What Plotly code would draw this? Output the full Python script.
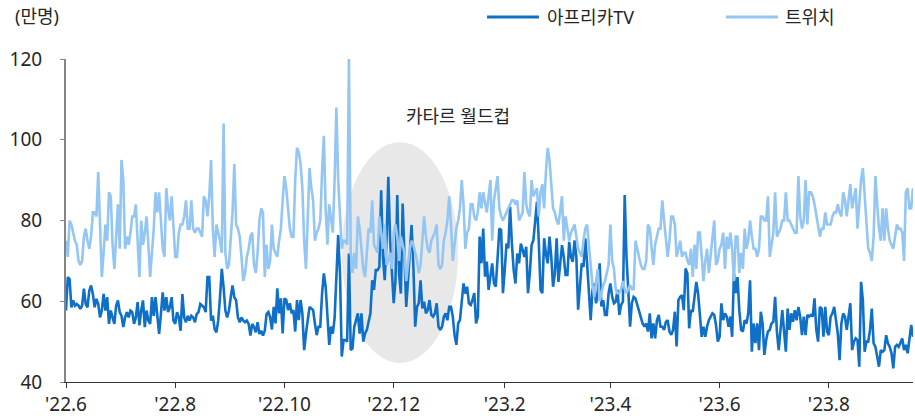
import pandas as pd
import plotly.graph_objects as go

start_date = "2022-06-01"

afreeca = [
    57.7, 66, 65.5, 58.5, 60.2, 58.9, 59.3, 58.9, 58.1, 58.9, 63.1, 59.3, 58.5, 62.6, 63.9, 61.8, 58.5,
    60.6, 59.3, 56, 57.7, 61.8, 57.7, 61, 54.4, 57.7, 56, 54.4, 58.9, 60.2, 57.3, 56.4, 53.6,
    56, 57.3, 56, 57.7, 57.3, 54.4, 56, 59.8, 54, 57.7, 60.2, 53.6, 57.7, 55.2, 54.4, 61,
    56.4, 61, 55.6, 51.9, 56.8, 62.2, 57.7, 61, 57.3, 58.5, 61, 55.2, 54.4, 57.3, 56, 52.7,
    61.8, 56, 54.8, 56.4, 55.2, 56.4, 56, 54.8, 56.8, 57.3, 59.3, 58.9, 58.5, 57.3, 66, 66,
    55.2, 56.4, 53.1, 52.3, 55.2, 61, 68, 63.5, 57.7, 56, 57.7, 61, 63.9, 61, 60.2,
    56, 54.8, 56, 55.2, 54.8, 55.2, 54.4, 51.5, 54.4, 53.6, 52.3, 54.8, 51.9, 52.7, 51.5, 52.7, 56.8, 57.3,
    56, 53, 58.6, 54.5, 63.2, 57, 60.7, 52, 60.7, 60.3,
    57.8, 59.5, 57, 57.8, 52.5, 60.3, 55.3, 60.3, 57, 47.9,
    52, 54.9, 58.6, 58.2, 57.8, 54.5, 51.6, 53.7, 53.7, 61.9,
    66.9, 63.6, 56.2, 49.2, 53.7, 52, 55.8, 66.9, 76.4, 66.9,
    46.3, 50.4, 50.4, 50, 71.8, 47.9, 48.3, 53.7, 55.3, 57,
    52, 57, 50, 52, 52.9, 55, 57, 65.2, 62.8, 67.7,
    67.7, 68.5, 87.5, 71, 65.2, 75.1, 90.8, 75.1, 66.9, 59.5,
    65.2, 86.3, 66.9, 61.9, 84.2, 71.8, 58.6, 65.2, 71.8, 78.9,
    68.5, 53.7, 58.6, 59.5, 65.2, 58.2, 59.9, 57, 57.8, 60.3,
    56.6, 56.2, 57, 59.5, 53.7, 52.9, 53.7, 56.2, 57, 55.3,
    58.6, 58.6, 56.2, 51.6, 49.2, 54.5, 55.3, 60.3, 64.4, 61.9, 63.6, 59.5,
    59.1, 60.3, 62, 54.5, 56.2, 76, 69.4, 78, 66.1, 69.8,
    62.8, 66.1, 69.4, 64.4, 63.6, 70.6, 78, 77.6, 62, 67.7,
    74.3, 73.1, 83.4, 74.3, 67.7, 64.4, 71.8, 69.4, 74.3, 72.7,
    71, 73.5, 62, 66.9, 73.9, 75.1, 80.1, 84.6, 75.1, 62.8,
    62, 75.6, 71.8, 69.4, 76, 71, 63.6, 66.9, 75.6, 64.8,
    69.4, 73.9, 71, 66.5, 66.5, 74.7, 71, 69.8, 75.1, 71,
    57.9, 64.4, 69.4, 68.5, 75.6, 69.4, 62.8, 55.3, 62.8, 64.4,
    59.5, 62, 69.4, 58.7, 60.3, 56.6, 56.6, 62, 64.4, 61.1,
    59.5, 59.9, 62.8, 56.6, 59.1, 59.9, 86.3, 71, 62.8, 53.7,
    59.5, 61.1, 60.7, 59.1, 57.4, 56.2, 54.5, 53.7, 54.5, 52.5,
    57, 50.8, 54.5, 50.8, 55.3, 56.6, 53.7, 53.7, 52.9, 54.9,
    55.3, 52.5, 51.7, 52.9, 57.4, 48.8, 60.3, 61.1, 61.5, 57.8,
    68.1, 66.9, 53.3,
    57.8, 57.4, 61.1, 64.8, 61.9, 57, 51.2, 53.7, 51.2, 53.7,
    55.3, 56.2, 57, 56.6, 54.1, 50, 51.2, 59.5, 55.3, 57,
    56.2, 53.7, 56.2, 51.2, 67, 62, 66, 57.8, 52.9, 52.5,
    55.3, 54.5, 57, 65.2, 47.5, 54.5, 49.6, 54.5, 47.9, 57.4,
    54.5, 46.7, 50.4, 52.5, 52.9, 54.5, 54.9, 61.1, 52.5, 47.9,
    52.5, 57.8, 52.5, 47.5, 58.2, 52.9, 57, 54.9, 57.8, 55.3,
    58.6, 56.2, 51.6, 56.2, 51.6, 56.6, 56.2, 56.6, 56.2, 60.7,
    52.9, 50, 58.6, 58.2, 51.2, 58.6, 52.5, 51.6, 56.2, 57,
    58.6, 55.8, 52, 45.4, 54.5, 57, 56.2, 52.9, 55.8, 59.5,
    47.9, 50, 50.8, 50.4, 43.8, 64.8, 60.3, 47.5, 50, 50,
    52.9, 58.2, 49.6, 48.7, 46.3, 43.8, 47.9, 47.5, 47.9, 51.6,
    49.6, 48.7, 47.1, 43.4, 48.7, 49.2, 48.7, 50, 50.8, 47.9,
    49.2, 47.1, 50.4, 54.1, 51.2,
]

twitch = [
    75, 71, 80, 79, 77, 75, 74, 70, 69, 70,
    76, 78, 75, 73, 76, 82, 82, 81, 92, 80,
    66, 72, 79, 75, 87, 86, 74, 68, 78, 84,
    73, 95, 90, 73, 76, 74, 77, 81, 81, 84,
    75, 66, 80, 74, 77, 81, 74, 66, 72, 78,
    87, 82, 87, 80, 73, 71, 88, 83, 80, 86,
    78, 71, 71, 77, 79, 79, 81, 85, 78, 78,
    85, 78, 77, 78, 78, 77, 76, 86, 85, 81,
    86, 95, 78, 71, 79, 77, 75, 72, 104, 72,
    68, 69, 76, 82, 94, 79, 78, 76, 71, 65,
    67, 71, 73, 76, 77, 69, 67, 72, 80, 83,
    82, 66, 74, 68,
    70, 79, 73, 72, 71, 75, 78, 85, 91, 88,
    82, 78, 76, 76, 90, 98, 97, 94, 88, 75,
    68, 83, 93, 88, 85, 75, 77, 78, 80, 92,
    101, 83, 74, 84, 80, 77, 90, 108, 90, 80,
    73, 75, 75, 74, 120, 72, 67, 72, 68, 81,
    78, 73, 68, 66, 72, 78, 77, 85, 74, 73,
    72, 81, 76, 73, 79, 69, 70, 72, 68, 77,
    79, 76, 70, 76, 74, 72, 65, 70, 73, 75,
    74, 72, 70, 67, 69, 75, 81, 76, 73, 72,
    75, 76, 77, 79, 69, 68, 69, 75, 77, 80,
    86, 79, 70, 74, 78, 80, 83, 90, 84, 73, 77, 78,
    84, 84, 81, 80, 82, 87, 83, 87, 84, 82,
    86, 90, 75, 85, 88, 91, 83, 81, 80, 81,
    82, 83, 84, 85, 85, 84, 85, 80, 81, 82,
    92, 84, 82, 81, 90, 86, 87, 88, 81, 87,
    89, 83, 92, 98, 95, 89, 83, 82, 80, 79,
    83, 86, 75, 81, 78, 75, 77, 78, 79, 76,
    73, 72, 71, 75, 78, 79, 73, 69, 64, 61,
    65, 68, 60, 62, 64, 65, 67, 69, 79, 70,
    68, 63, 62, 62, 63, 65, 63, 62, 63, 64,
    63, 63, 75, 73, 71, 69, 68, 68, 70, 79,
    78, 74, 69, 74, 76, 78, 78, 85, 80, 76,
    71, 75, 81, 81, 79, 71, 73, 75, 71, 72,
    72, 70, 69,
    73, 66, 74, 68, 77, 77, 72, 65, 70, 73,
    67, 72, 77, 80, 69, 70, 73, 74, 77, 68,
    76, 73, 77, 73, 65, 76, 76, 67, 72, 68,
    78, 73, 75, 80, 76, 73, 73, 71, 73, 81,
    81, 80, 80, 86, 71, 74, 77, 87, 76, 77,
    78, 80, 80, 87, 80, 80, 79, 78, 77, 77,
    91, 81, 78, 80, 90, 79, 87, 87, 86, 84,
    81, 79, 76, 78, 78, 82, 79, 79, 79, 81,
    82, 82, 84, 82, 81, 87, 85, 81, 86, 89,
    83, 86, 88, 78, 85, 90, 93, 87, 80, 73,
    72, 70, 76, 91, 84, 78, 75, 83, 75, 83,
    78, 75, 74, 73, 76, 79, 78, 78, 77, 70,
    87, 88, 83, 83, 88,
]

tick_dates = ["2022-06-01", "2022-08-01", "2022-10-01", "2022-12-01",
              "2023-02-01", "2023-04-01", "2023-06-01", "2023-08-01"]
tick_labels = ["'22.6", "'22.8", "'22.10", "'22.12", "'23.2", "'23.4", "'23.6", "'23.8"]
y_ticks = [40, 60, 80, 100, 120]

series_names = ["아프리카TV", "트위치"]
colors = ["#1070C8", "#94C6F4"]

dates_a = pd.date_range(start_date, periods=len(afreeca), freq="D")
dates_t = pd.date_range(start_date, periods=len(twitch), freq="D")
end_date = max(dates_a[-1], dates_t[-1])

KFONT = "Noto Sans, Noto Sans CJK KR, sans-serif"
KSIZE = 18

fig = go.Figure()
fig.add_trace(go.Scatter(x=dates_a, y=afreeca, mode="lines", name=series_names[0],
                         line=dict(color=colors[0], width=2.6), showlegend=False))
fig.add_trace(go.Scatter(x=dates_t, y=twitch, mode="lines", name=series_names[1],
                         line=dict(color=colors[1], width=2.6), showlegend=False))

# World Cup highlight ellipse
fig.add_shape(type="circle", xref="x", yref="y",
              x0="2022-11-02", x1="2023-01-06", y0=44.7, y1=99.4,
              fillcolor="#E8E8E8", line=dict(width=0), layer="below")
fig.add_annotation(x="2023-01-06", y=105.9, xref="x", yref="y", text="카타르 월드컵",
                   showarrow=False, font=dict(family=KFONT, size=KSIZE, color="#262626"))

# Legend drawn manually
legend_items = [(0.4971, 0.5584, 0.5655), (0.7792, 0.8406, 0.8465)]
for (lx0, lx1, tx), name, col in zip(legend_items, series_names, colors):
    fig.add_shape(type="line", xref="paper", yref="paper", x0=lx0, x1=lx1, y0=1.130, y1=1.130,
                  line=dict(color=col, width=3))
    fig.add_annotation(x=tx, y=1.130, xref="paper", yref="paper", text=name, showarrow=False,
                       xanchor="left", yanchor="middle",
                       font=dict(family=KFONT, size=KSIZE, color="#262626"))

fig.add_annotation(x=-0.0626, y=1.133, xref="paper", yref="paper", text="(만명)", showarrow=False,
                   xanchor="left", yanchor="middle", font=dict(family=KFONT, size=KSIZE, color="#262626"))

fig.update_layout(
    width=915, height=419,
    margin=dict(l=66, r=2, t=59, b=37),
    paper_bgcolor="white", plot_bgcolor="white",
    font=dict(family=KFONT, size=18, color="#262626"),
)
fig.update_xaxes(type="date", range=[pd.Timestamp(start_date), end_date],
                 tickmode="array", tickvals=tick_dates, ticktext=tick_labels,
                 showgrid=False, zeroline=False, showline=True, linecolor="#333333", linewidth=1.3,
                 ticks="outside", ticklen=5, tickcolor="#333333", tickwidth=1.3,
                 tickfont=dict(size=19, color="#262626"))
fig.update_yaxes(range=[40, 120], tickmode="array", tickvals=y_ticks,
                 showgrid=False, zeroline=False, showline=True, linecolor="#858585", linewidth=2,
                 ticks="outside", ticklen=4, tickcolor="#858585", tickwidth=1.3,
                 ticklabelstandoff=14, tickfont=dict(size=19, color="#262626"))

fig.write_html("out.html", config={"displayModeBar": False},
               post_script="document.body.style.margin='0';")
